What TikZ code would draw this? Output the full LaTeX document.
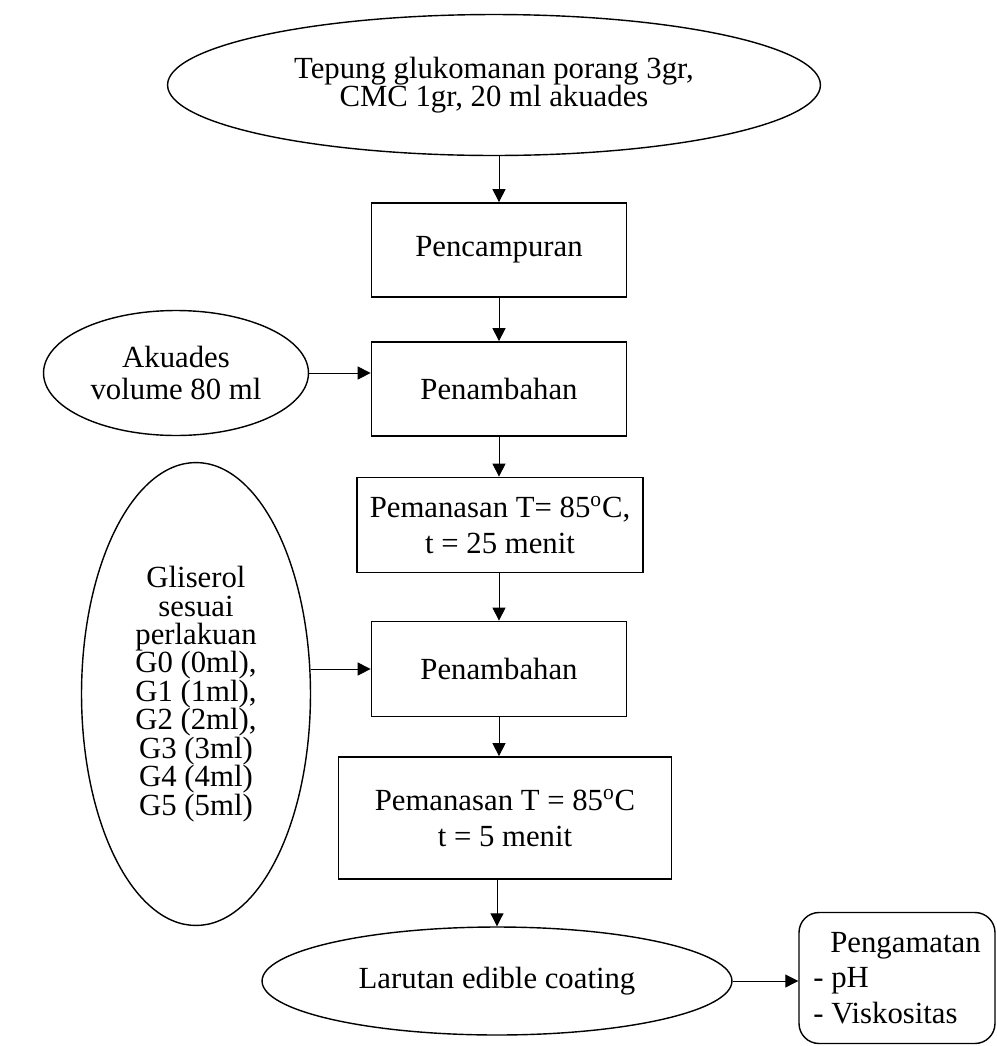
\documentclass[tikz,border=0pt]{standalone}
\usepackage{fontspec}
\setmainfont{Liberation Serif}
\usetikzlibrary{shapes.geometric,arrows.meta}

\begin{document}
\begin{tikzpicture}[x=0.02cm,y=-0.02cm,
  every node/.style={font=\fontsize{17.5}{20.3}\selectfont},
  kotak/.style={draw,line width=1pt,align=center,inner sep=0pt},
  bulat/.style={draw,ellipse,line width=0.8pt,align=center,inner sep=0pt},
  panah/.style={-{Triangle[length=0.26cm,width=0.26cm]},line width=0.5pt}]
\useasboundingbox (0,0) rectangle (997,1046);

% bahan awal
\node[bulat,minimum width=13.06cm,minimum height=2.82cm,
  font=\fontsize{17.5}{16}\selectfont] (bahan) at (494,85)
  {Tepung glukomanan porang 3gr,\\CMC 1gr, 20 ml akuades};

% proses utama
\node[kotak,minimum width=5.1cm,minimum height=1.88cm] (campur) at (499,250) {Pencampuran};
\node[kotak,minimum width=5.1cm,minimum height=1.88cm] (tambah1) at (499,389) {Penambahan};
\node[kotak,minimum width=5.72cm,minimum height=1.9cm] (panas1) at (500,525)
  {Pemanasan T= 85\textsuperscript{o}C,\\t = 25 menit};
\node[kotak,minimum width=5.1cm,minimum height=1.9cm] (tambah2) at (499,669) {Penambahan};
\node[kotak,minimum width=6.66cm,minimum height=2.44cm] (panas2) at (505,818)
  {Pemanasan T = 85\textsuperscript{o}C\\t = 5 menit};

% bahan tambahan
\node[bulat,minimum width=5.3cm,minimum height=2.5cm,
  font=\fontsize{17.5}{17.8}\selectfont] (akuades) at (176,373)
  {Akuades\\volume 80 ml};
\node[bulat,minimum width=4.58cm,minimum height=9.26cm,
  font=\fontsize{17.5}{16.2}\selectfont] (gliserol) at (196,694)
  {Gliserol\\sesuai\\perlakuan\\G0 (0ml),\\G1 (1ml),\\G2 (2ml),\\G3 (3ml)\\G4 (4ml)\\G5 (5ml)};

% hasil
\node[bulat,minimum width=9.4cm,minimum height=2.16cm] (larutan) at (497,981) {Larutan edible coating};
\node[draw,line width=0.8pt,rounded corners=0.4cm,align=left,inner sep=0pt,
  minimum width=3.92cm,minimum height=2.62cm] (amat) at (897,978)
  {\hspace*{0.34cm}Pengamatan\\- pH\\- Viskositas};

\draw[panah] (bahan.south -| campur.north) -- (campur.north);
\draw[panah] (campur) -- (tambah1);
\draw[panah] (akuades.east) -- (akuades.east -| tambah1.west);
\draw[panah] (tambah1.south) -- (tambah1.south |- panas1.north);
\draw[panah] (panas1.south -| tambah2.north) -- (tambah2.north);
\draw[panah] (gliserol.east |- tambah2.west) -- (tambah2.west);
\draw[panah] (tambah2.south) -- (tambah2.south |- panas2.north);
\draw[panah] (panas2.south -| larutan.north) -- (larutan.north);
\draw[panah] (larutan.east) -- (larutan.east -| amat.west);
\end{tikzpicture}
\end{document}
